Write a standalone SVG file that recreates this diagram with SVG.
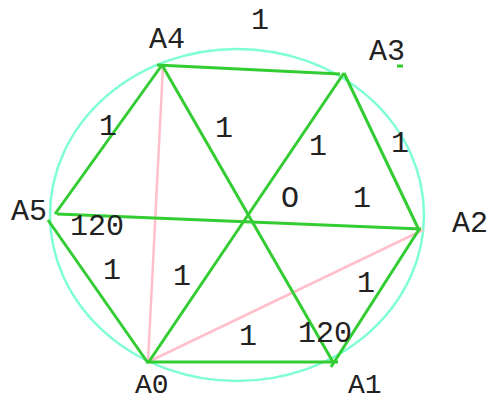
<svg xmlns="http://www.w3.org/2000/svg" width="496" height="400" viewBox="0 0 496 400">
<style>
.t{font-family:"Liberation Mono","Courier New",monospace;font-size:30px;fill:#222}
.b{font-size:28px}
.g{stroke:#33cc33;stroke-width:3;fill:none;stroke-linecap:butt}
.p{stroke:#ffc0cb;stroke-width:2.5;fill:none}
</style>
<rect width="496" height="400" fill="#fff"/>
<ellipse cx="237" cy="215" rx="187" ry="166" fill="none" stroke="#7fffd4" stroke-width="2.5"/>
<g id="connectors">
<line class="p" x1="163" y1="66" x2="148" y2="362"/>
<line class="p" x1="148" y1="362" x2="423" y2="230"/>
<line class="g" x1="157" y1="65" x2="340" y2="74"/>
<line class="g" x1="344" y1="73" x2="418" y2="228"/>
<line class="g" x1="344" y1="73" x2="148" y2="363"/>
<line class="g" x1="162" y1="65" x2="333" y2="362"/>
<line class="g" x1="162" y1="65" x2="55" y2="214"/>
<line class="g" x1="57" y1="214" x2="421" y2="229"/>
<line class="g" x1="48" y1="220" x2="148" y2="363"/>
<line class="g" x1="146" y1="362" x2="338" y2="362"/>
<line class="g" x1="420" y1="228" x2="331" y2="367"/>
<line class="g" x1="397" y1="66" x2="403" y2="66"/>
</g>
<g id="A0"><text class="t b" x="135" y="393">A0</text></g>
<g id="A1"><text class="t b" x="348" y="393">A1</text></g>
<g id="A2"><text class="t" x="452" y="232">A2</text></g>
<g id="A3"><text class="t" x="369" y="60">A3</text></g>
<g id="A4"><text class="t" x="149" y="48">A4</text></g>
<g id="A5"><text class="t" x="11" y="220">A5</text></g>
<g id="O"><text class="t" x="281" y="207">O</text></g>
<g id="labels">
<text class="t" x="251" y="29">1</text>
<text class="t" x="99" y="135">1</text>
<text class="t" x="215" y="137">1</text>
<text class="t" x="309" y="155">1</text>
<text class="t" x="391" y="152">1</text>
<text class="t" x="353" y="207">1</text>
<text class="t" x="70" y="235">120</text>
<text class="t" x="103" y="279">1</text>
<text class="t" x="173" y="285">1</text>
<text class="t" x="357" y="292">1</text>
<text class="t" x="239" y="345">1</text>
<text class="t" x="298" y="342">120</text>
</g>
</svg>
